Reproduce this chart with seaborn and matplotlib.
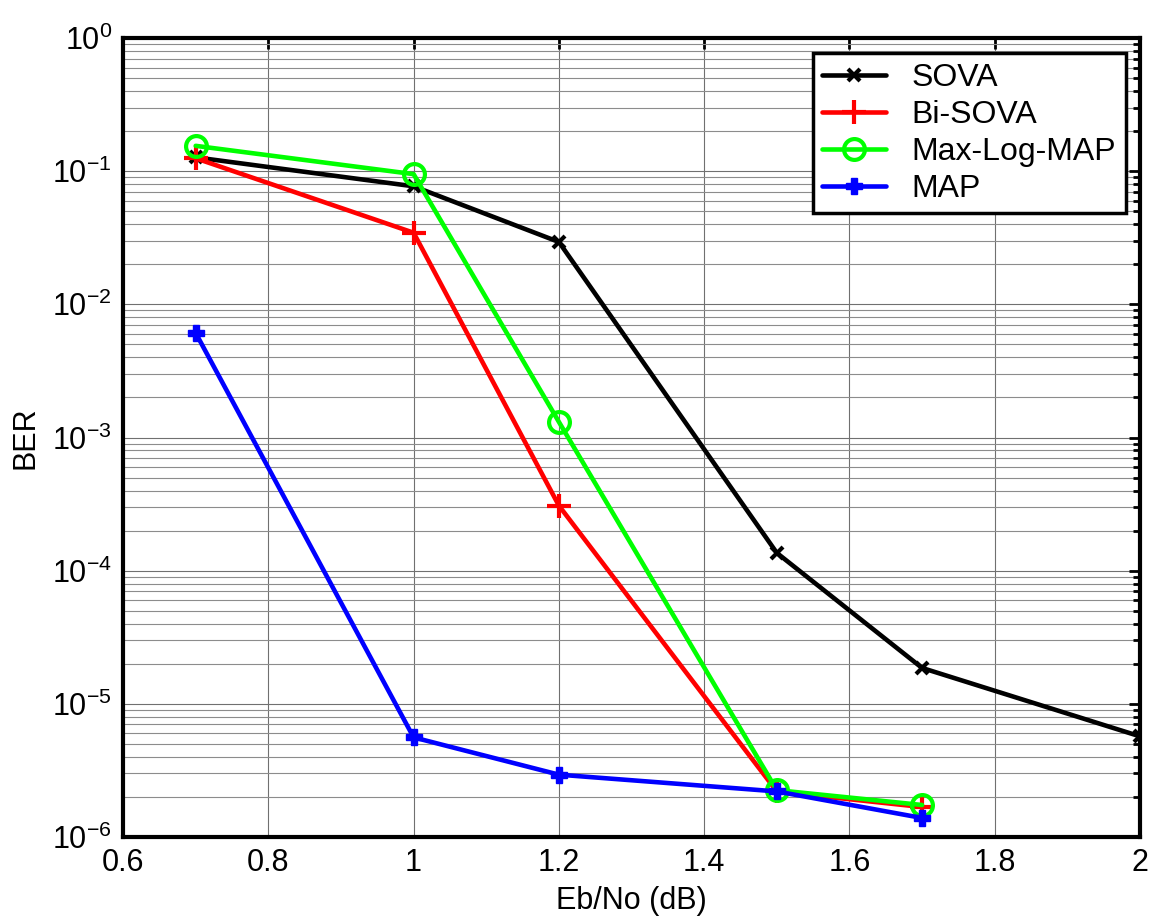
import numpy as np
import pandas as pd
import matplotlib
matplotlib.use("Agg")
import matplotlib.pyplot as plt
import seaborn as sns
from matplotlib.ticker import LogLocator, FixedLocator, NullFormatter

ebno_sova = [0.7, 1.0, 1.2, 1.5, 1.7, 2.0]
ber_sova = [0.127, 0.077, 0.0294, 1.36e-4, 1.86e-5, 5.7e-6]
ebno_bisova = [0.7, 1.0, 1.2, 1.5, 1.7]
ber_bisova = [0.125, 0.0345, 3.08e-4, 2.2e-6, 1.68e-6]
ebno_maxlog = [0.7, 1.0, 1.2, 1.5, 1.7]
ber_maxlog = [0.155, 0.095, 1.31e-3, 2.25e-6, 1.74e-6]
ebno_map = [0.7, 1.0, 1.2, 1.5, 1.7]
ber_map = [6.1e-3, 5.6e-6, 2.94e-6, 2.2e-6, 1.39e-6]

series = ["SOVA", "Bi-SOVA", "Max-Log-MAP", "MAP"]
colors = {"SOVA": "#000000", "Bi-SOVA": "#ff0000", "Max-Log-MAP": "#00ff00", "MAP": "#0000ff"}

df = pd.concat([
    pd.DataFrame({"x": ebno_sova, "y": ber_sova, "s": "SOVA"}),
    pd.DataFrame({"x": ebno_bisova, "y": ber_bisova, "s": "Bi-SOVA"}),
    pd.DataFrame({"x": ebno_maxlog, "y": ber_maxlog, "s": "Max-Log-MAP"}),
    pd.DataFrame({"x": ebno_map, "y": ber_map, "s": "MAP"}),
], ignore_index=True)

sns.set_style("white")
plt.rcParams["font.family"] = ["Liberation Sans", "DejaVu Sans"]
plt.rcParams["mathtext.default"] = "regular"
plt.rcParams["text.color"] = "black"
plt.rcParams["axes.labelcolor"] = "black"

fig = plt.figure(figsize=(11.52, 9.18), dpi=100)
ax = fig.add_axes([0.1068, 0.0882, 0.8828, 0.8704])

for s in series:
    sub = df[df.s == s]
    if s == "Max-Log-MAP":
        kw = dict(marker="o", markersize=15, markerfacecolor="none",
                  markeredgecolor=colors[s], markeredgewidth=3)
    elif s == "Bi-SOVA":
        kw = dict(marker="+", markersize=17, markeredgewidth=3, markeredgecolor=colors[s])
    elif s == "SOVA":
        kw = dict(marker="x", markersize=8, markeredgewidth=3, markeredgecolor=colors[s])
    else:
        kw = dict(marker="P", markersize=12, markeredgewidth=1, markeredgecolor=colors[s], markerfacecolor=colors[s])
    sns.lineplot(data=sub, x="x", y="y", ax=ax, color=colors[s], linewidth=3.3,
                 label=s, estimator=None, sort=False, **kw)

ax.set_yscale("log")
ax.set_xlim(0.6, 2.0)
ax.set_ylim(1e-6, 1)
ax.set_xticks([0.6, 0.8, 1.0, 1.2, 1.4, 1.6, 1.8, 2.0])
ax.set_xticklabels(["0.6", "0.8", "1", "1.2", "1.4", "1.6", "1.8", "2"])
ax.yaxis.set_major_locator(FixedLocator([10.0 ** k for k in range(-6, 1)]))
ax.set_yticklabels([r"$10^{%d}$" % k for k in range(-6, 1)])
ax.yaxis.set_minor_locator(LogLocator(base=10, subs=np.arange(2, 10), numticks=20))
ax.yaxis.set_minor_formatter(NullFormatter())

ax.grid(True, which="major", color="#707070", lw=0.8)
ax.grid(True, which="minor", axis="y", color="#8c8c8c", lw=0.8)
ax.set_axisbelow(True)

ax.tick_params(axis="both", which="both", direction="in", top=True, right=True,
               labelsize=22, width=2, colors="black")
ax.tick_params(axis="both", which="major", length=8)
ax.tick_params(axis="y", which="minor", length=5)
ax.tick_params(axis="x", pad=8)
ax.tick_params(axis="y", pad=8)
for sp in ax.spines.values():
    sp.set_linewidth(3)
    sp.set_color("black")

ax.set_xlabel("Eb/No (dB)", fontsize=22, labelpad=6)
ax.set_ylabel("BER", fontsize=22, labelpad=8)

leg = ax.legend(loc="upper right", fontsize=23, frameon=True, fancybox=False,
                framealpha=1, edgecolor="black", borderpad=0.3, labelspacing=0.22,
                handlelength=2.0, handletextpad=0.8, bbox_to_anchor=(0.986, 0.981),
                borderaxespad=0)
leg.get_frame().set_linewidth(2.5)

fig.savefig("out.png", dpi=100)
